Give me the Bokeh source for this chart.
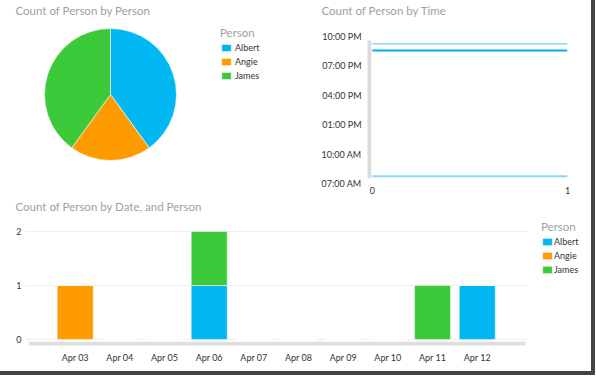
import numpy as np
from bokeh.plotting import figure
from bokeh.models import (Range1d, Legend, LegendItem, FixedTicker, ColumnDataSource,
                          BoxAnnotation)
from bokeh.layouts import column, row
from bokeh.embed import file_html
from bokeh.resources import INLINE

# ---------------- data ----------------
persons = ["Albert", "Angie", "James"]
person_colors = ["#01B8F2", "#FD9B00", "#3CC93A"]
person_counts = [2, 1, 2]

time_tick_hours = [7, 10, 13, 16, 19, 22]
time_tick_labels = ["07:00 AM", "10:00 AM", "01:00 PM", "04:00 PM", "07:00 PM", "10:00 PM"]
time_x = [0, 1]
time_line_main = [20.57, 20.57]
time_line_upper = [21.26, 21.26]
time_line_lower = [7.74, 7.74]

dates = ["Apr 03", "Apr 04", "Apr 05", "Apr 06", "Apr 07",
         "Apr 08", "Apr 09", "Apr 10", "Apr 11", "Apr 12"]
albert = [0, 0, 0, 1, 0, 0, 0, 0, 0, 1]
angie = [1, 0, 0, 0, 0, 0, 0, 0, 0, 0]
james = [0, 0, 0, 1, 0, 0, 0, 0, 1, 0]
count_ticks = [0, 1, 2]

FONT = "Lato"
TITLE_COLOR = "#a0a0a0"
LABEL_COLOR = "#333333"
TITLE_SIZE = "11.5px"
TICK_SIZE = "9px"


def base(fig):
    fig.outline_line_color = None
    fig.background_fill_color = "white"
    fig.border_fill_color = "white"
    return fig


def legend_style(leg):
    leg.title_text_font = FONT
    leg.title_text_font_size = TITLE_SIZE
    leg.title_text_color = TITLE_COLOR
    leg.title_text_font_style = "normal"
    leg.title_standoff = 3
    leg.label_text_font = FONT
    leg.label_text_font_size = TICK_SIZE
    leg.label_text_color = LABEL_COLOR
    leg.glyph_width = 12
    leg.glyph_height = 9
    leg.label_height = 10
    leg.spacing = 3
    leg.padding = 2
    leg.margin = 0
    leg.border_line_color = None
    leg.background_fill_alpha = 0


def style_axis(ax):
    ax.axis_line_color = None
    ax.major_tick_line_color = None
    ax.minor_tick_line_color = None
    ax.major_tick_out = 0
    ax.major_label_text_font = FONT
    ax.major_label_text_font_size = TICK_SIZE
    ax.major_label_text_color = LABEL_COLOR


def style_title(fig, text, offset, standoff):
    fig.title.text = text
    fig.title.text_font = FONT
    fig.title.text_font_size = TITLE_SIZE
    fig.title.text_color = TITLE_COLOR
    fig.title.text_font_style = "normal"
    fig.title.align = "left"
    fig.title.offset = offset
    fig.title.standoff = standoff


TOP_H = 197
BOT_H = 174
TOP_T = 16   # frame top in top row (shared by both plots)
TOP_B = 12   # space below frame in top row

# ---------------- pie ----------------
pie = base(figure(width=300, height=TOP_H, x_range=Range1d(-110, 190), y_range=Range1d(-91, 78),
                  output_backend="svg", toolbar_location=None,
                  x_axis_type=None, y_axis_type=None,
                  min_border_left=0, min_border_right=0, min_border_top=TOP_T, min_border_bottom=TOP_B))
pie.grid.visible = False
total = float(sum(person_counts))
cum = np.cumsum([0] + person_counts) / total
starts = np.pi / 2 - 2 * np.pi * cum[:-1]
ends = np.pi / 2 - 2 * np.pi * cum[1:]
pie_items = []
for i, name in enumerate(persons):
    r = pie.wedge(x=0, y=0, radius=66, start_angle=starts[i], end_angle=ends[i],
                  direction="clock", fill_color=person_colors[i], line_color="white", line_width=0.6)
    pie_items.append(LegendItem(label=name, renderers=[r]))
style_title(pie, "Count of Person by Person", 15, 0)
pie_leg = Legend(items=pie_items, location=(220, 104), title="Person", label_standoff=3)
legend_style(pie_leg)
pie.add_layout(pie_leg)

# ---------------- time chart ----------------
tm = base(figure(width=291, height=TOP_H, x_range=Range1d(-0.035, 1.0), y_range=Range1d(6.796, 24.04),
                 output_backend="svg", toolbar_location=None,
                 min_border_left=65, min_border_right=24, min_border_top=TOP_T, min_border_bottom=TOP_B))
tm.grid.visible = False
tm.line(time_x, time_line_upper, color="#8AD6F4", line_width=1.5)
tm.line(time_x, time_line_main, color="#00B0F0", line_width=2)
tm.line(time_x, time_line_lower, color="#8AD6F4", line_width=2)
tm.add_layout(BoxAnnotation(left=-0.025, right=-0.005, bottom=7.5, top=21.6,
                            fill_color="#dcdcdc", fill_alpha=1, line_color=None))
tm.yaxis.ticker = FixedTicker(ticks=time_tick_hours)
tm.yaxis.major_label_overrides = {h: l for h, l in zip(time_tick_hours, time_tick_labels)}
tm.xaxis.ticker = FixedTicker(ticks=time_x)
style_axis(tm.xaxis)
style_axis(tm.yaxis)
tm.yaxis.major_label_standoff = 4
tm.xaxis.major_label_standoff = 1
style_title(tm, "Count of Person by Time", -44, 0)

# ---------------- bar chart ----------------
bar = base(figure(width=591, height=BOT_H, x_range=Range1d(-1.113, 11.558), y_range=Range1d(-0.13, 2.352),
                  output_backend="svg", toolbar_location=None,
                  min_border_left=25, min_border_right=0, min_border_top=15, min_border_bottom=25))
src = ColumnDataSource(dict(x=list(range(len(dates))), Albert=albert, Angie=angie, James=james))
bars = bar.vbar_stack(persons, x="x", width=0.806, color=person_colors, line_color="white",
                      line_width=0.5, source=src)
bar.xgrid.visible = False
bar.ygrid.ticker = FixedTicker(ticks=count_ticks)
bar.ygrid.grid_line_color = "#eeeeee"
bar.add_layout(BoxAnnotation(left=-1.04, right=10.08, bottom=-0.11, top=-0.04,
                             fill_color="#dedede", fill_alpha=1, line_color=None))
# white area to the right of the plotting region (legend area)
bar.add_layout(BoxAnnotation(left=10.125, fill_color="white", fill_alpha=1, line_color=None))
bar.xaxis.ticker = FixedTicker(ticks=list(range(len(dates))))
bar.xaxis.major_label_overrides = {i: d for i, d in enumerate(dates)}
bar.yaxis.ticker = FixedTicker(ticks=count_ticks)
style_axis(bar.xaxis)
style_axis(bar.yaxis)
bar.xaxis.major_label_standoff = 5
bar.yaxis.major_label_standoff = 4
style_title(bar, "Count of Person by Date, and Person", -10, 0)
bar_leg = Legend(items=[LegendItem(label=n, renderers=[r]) for n, r in zip(persons, bars)],
                 location=(516, 71), title="Person", label_standoff=1)
legend_style(bar_leg)
bar.add_layout(bar_leg)

layout = column(row(pie, tm), bar,
                styles={"border-right": "4px solid #444", "border-bottom": "4px solid #444"})

open("out.html", "w").write(file_html(layout, INLINE))
